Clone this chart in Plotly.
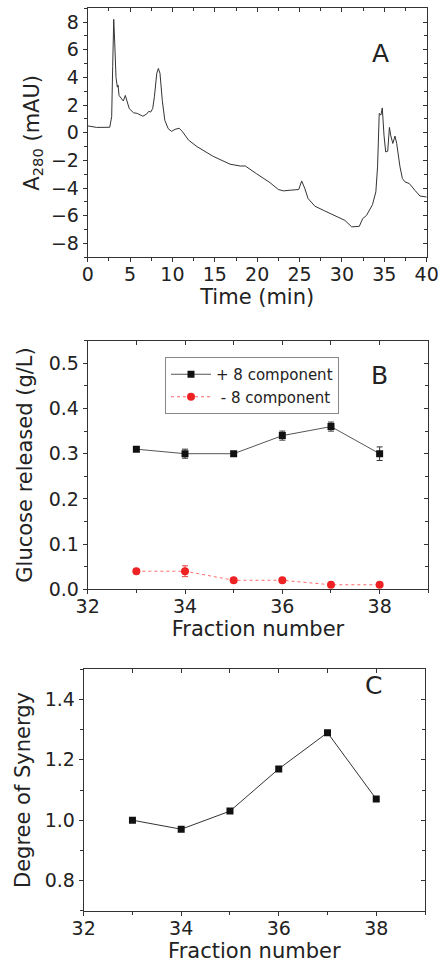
import plotly.graph_objects as go

# Panel A: chromatogram
time_min = [0, 1.06, 2.6, 2.83, 2.95, 3.07, 3.19, 3.34, 3.5, 3.58, 3.7, 4.0, 4.2, 4.44, 4.6, 4.9,
            5.4, 5.85, 6.5, 6.95, 7.2, 7.43, 7.67, 7.87, 8.15, 8.34, 8.53, 8.8, 9.1, 9.5, 9.9,
            10.3, 10.8, 11.2, 11.9, 12.9, 14.8, 16.8, 18.0, 18.6, 19.9, 21.5, 22.5, 23.1, 23.9,
            24.9, 25.25, 25.6, 26.0, 26.8, 27.8, 29.0, 30.0, 30.35, 31.15, 32.05, 32.45, 32.9,
            33.6, 34.0, 34.2, 34.4, 34.6, 34.76, 34.96, 35.16, 35.4, 35.6, 35.75, 36.0, 36.26,
            36.46, 36.85, 37.13, 37.44, 37.95, 38.6, 39.2, 40.0]
a280 = [0.5, 0.39, 0.4, 1.16, 4.8, 8.2, 6.5, 4.0, 3.3, 3.45, 2.7, 2.5, 2.3, 2.7, 2.35, 1.75,
        1.45, 1.4, 1.2, 1.35, 1.55, 1.5, 1.75, 2.6, 4.3, 4.65, 4.3, 2.35, 0.9, 0.3, 0.1,
        0.25, 0.33, 0.07, -0.53, -1.0, -1.7, -2.27, -2.4, -2.4, -2.95, -3.6, -4.1, -4.2, -4.15,
        -4.1, -3.48, -4.0, -4.75, -5.3, -5.6, -5.97, -6.25, -6.33, -6.8, -6.76, -6.2, -5.97,
        -5.2, -4.27, -2.46, 1.4, 1.28, 1.8, -0.17, -1.38, -1.33, 0.39, -0.17, -0.77, -0.24,
        -0.77, -2.46, -3.3, -3.55, -3.67, -4.15, -4.57, -4.64]

# Panel B: glucose released
fractions = [33, 34, 35, 36, 37, 38]
glucose_plus8 = [0.31, 0.30, 0.30, 0.34, 0.36, 0.30]
glucose_plus8_err = [0.004, 0.01, 0.005, 0.01, 0.01, 0.015]
glucose_minus8 = [0.04, 0.04, 0.02, 0.02, 0.01, 0.01]
glucose_minus8_err = [0.003, 0.012, 0.003, 0.003, 0.002, 0.002]

# Panel C: degree of synergy
synergy = [1.00, 0.97, 1.03, 1.17, 1.29, 1.07]

FONT = "DejaVu Sans, Arial, sans-serif"
AX = "#333333"
TXT = "#222222"

fig = go.Figure()

fig.add_trace(go.Scatter(x=time_min, y=a280, mode="lines", line=dict(color="#333333", width=1),
                         xaxis="x", yaxis="y", showlegend=False))

fig.add_trace(go.Scatter(x=fractions, y=glucose_plus8, mode="lines+markers", name="+ 8 component",
                         line=dict(color="#555555", width=1),
                         marker=dict(symbol="square", size=7, color="#111111"),
                         error_y=dict(type="data", array=glucose_plus8_err, color="#333333",
                                      thickness=1, width=3),
                         xaxis="x2", yaxis="y2"))
fig.add_trace(go.Scatter(x=fractions, y=glucose_minus8, mode="lines+markers", name=" - 8 component",
                         line=dict(color="#ff6a6a", width=1, dash="dot"),
                         marker=dict(symbol="circle", size=8, color="#ee2222"),
                         error_y=dict(type="data", array=glucose_minus8_err, color="#ee4444",
                                      thickness=1, width=3),
                         xaxis="x2", yaxis="y2"))

fig.add_trace(go.Scatter(x=fractions, y=synergy, mode="lines+markers",
                         line=dict(color="#333333", width=1),
                         marker=dict(symbol="square", size=7, color="#111111"),
                         xaxis="x3", yaxis="y3", showlegend=False))

tickfont = dict(family=FONT, size=19, color=TXT)
titlefont = dict(family=FONT, size=21, color=TXT)


def base_axis(domain, anchor, rng, dtick, minor_dtick, title, tick0=None, standoff=4,
              fmt=None, labshift=0):
    d = dict(domain=domain, anchor=anchor, range=rng, dtick=dtick, tickmode="linear",
             ticks="outside", ticklen=4, tickwidth=1, tickcolor=AX,
             showline=True, linecolor=AX, linewidth=1, mirror=True, automargin=False,
             showgrid=False, zeroline=False, tickfont=tickfont, ticklabelstandoff=labshift,
             title=dict(text=title, font=titlefont, standoff=standoff),
             minor=dict(dtick=minor_dtick, ticks="outside", ticklen=3, tickcolor=AX, showgrid=False))
    if tick0 is not None:
        d["tick0"] = tick0
    if fmt:
        d["tickformat"] = fmt
    return d


def mirror_axis(overlay, anchor, side, rng, dtick, minor_dtick, tick0=None):
    d = dict(overlaying=overlay, anchor=anchor, side=side, range=rng, dtick=dtick,
             tickmode="linear", ticks="inside", ticklen=4, tickwidth=1, tickcolor=AX,
             showticklabels=False, showline=False, showgrid=False, zeroline=False,
             automargin=False,
             minor=dict(dtick=minor_dtick, ticks="inside", ticklen=3, tickcolor=AX, showgrid=False))
    if tick0 is not None:
        d["tick0"] = tick0
    return d


xA = [87.7 / 440, 426.7 / 440]
yA = [1 - 257.3 / 963, 1 - 8.3 / 963]
xB = [87.7 / 440, 428.3 / 440]
yB = [1 - 589.3 / 963, 1 - 340.7 / 963]
xC = [83.7 / 440, 425 / 440]
yC = [1 - 910.7 / 963, 1 - 669.3 / 963]

fig.update_layout(
    width=440, height=963,
    margin=dict(l=0, r=0, t=0, b=0),
    paper_bgcolor="white", plot_bgcolor="white",
    font=dict(family=FONT, color=TXT),
    xaxis=base_axis(xA, "y", [0, 40], 5, 2.5, "Time (min)", 0, 0, labshift=-4),
    yaxis=base_axis(yA, "x", [-9, 9], 2, 1, "A<sub>280</sub> (mAU)", 0, 5),
    xaxis2=base_axis(xB, "y2", [32, 39], 2, 1, "Fraction number", 32, 2, labshift=-4),
    yaxis2=base_axis(yB, "x2", [0, 0.55], 0.1, 0.05, "Glucose released (g/L)", 0, 10, ".1f"),
    xaxis3=base_axis(xC, "y3", [32, 39], 2, 1, "Fraction number", 32, 6, labshift=-4),
    yaxis3=base_axis(yC, "x3", [0.7, 1.5], 0.2, 0.1, "Degree of Synergy", 0.8, 8, ".1f"),
    xaxis4=mirror_axis("x", "y", "top", [0, 40], 5, 2.5, 0),
    yaxis4=mirror_axis("y", "x", "right", [-9, 9], 2, 1, 0),
    xaxis5=mirror_axis("x2", "y2", "top", [32, 39], 1, 1, 32),
    yaxis5=mirror_axis("y2", "x2", "right", [0, 0.55], 0.1, 0.05, 0),
    xaxis6=mirror_axis("x3", "y3", "top", [32, 39], 1, 1, 32),
    yaxis6=mirror_axis("y3", "x3", "right", [0.7, 1.5], 0.2, 0.1, 0.8),
    legend=dict(x=165 / 440, y=1 - 357 / 963, xanchor="left", yanchor="top",
                bgcolor="white", bordercolor="#888888", borderwidth=1,
                font=dict(family=FONT, size=15, color=TXT), itemwidth=40,
                tracegroupgap=0),
    annotations=[
        dict(text="A", x=390.7 / 440, y=1 - 37.3 / 963, xref="paper", yref="paper",
             showarrow=False, font=dict(family=FONT, size=25, color=TXT)),
        dict(text="B", x=390 / 440, y=1 - 375.3 / 963, xref="paper", yref="paper",
             showarrow=False, font=dict(family=FONT, size=25, color=TXT)),
        dict(text="C", x=383.7 / 440, y=1 - 702 / 963, xref="paper", yref="paper",
             showarrow=False, font=dict(family=FONT, size=25, color=TXT)),
    ],
)

# invisible points so the mirror-tick axes are drawn
for xa, ya, xs, ys in [("x4", "y4", [0], [0]), ("x5", "y5", [33], [0.3]), ("x6", "y6", [33], [1.0])]:
    fig.add_trace(go.Scatter(x=xs, y=ys, xaxis=xa, yaxis=ya, mode="markers",
                             marker=dict(opacity=0), showlegend=False, hoverinfo="skip"))

fig.write_html("out.html")
